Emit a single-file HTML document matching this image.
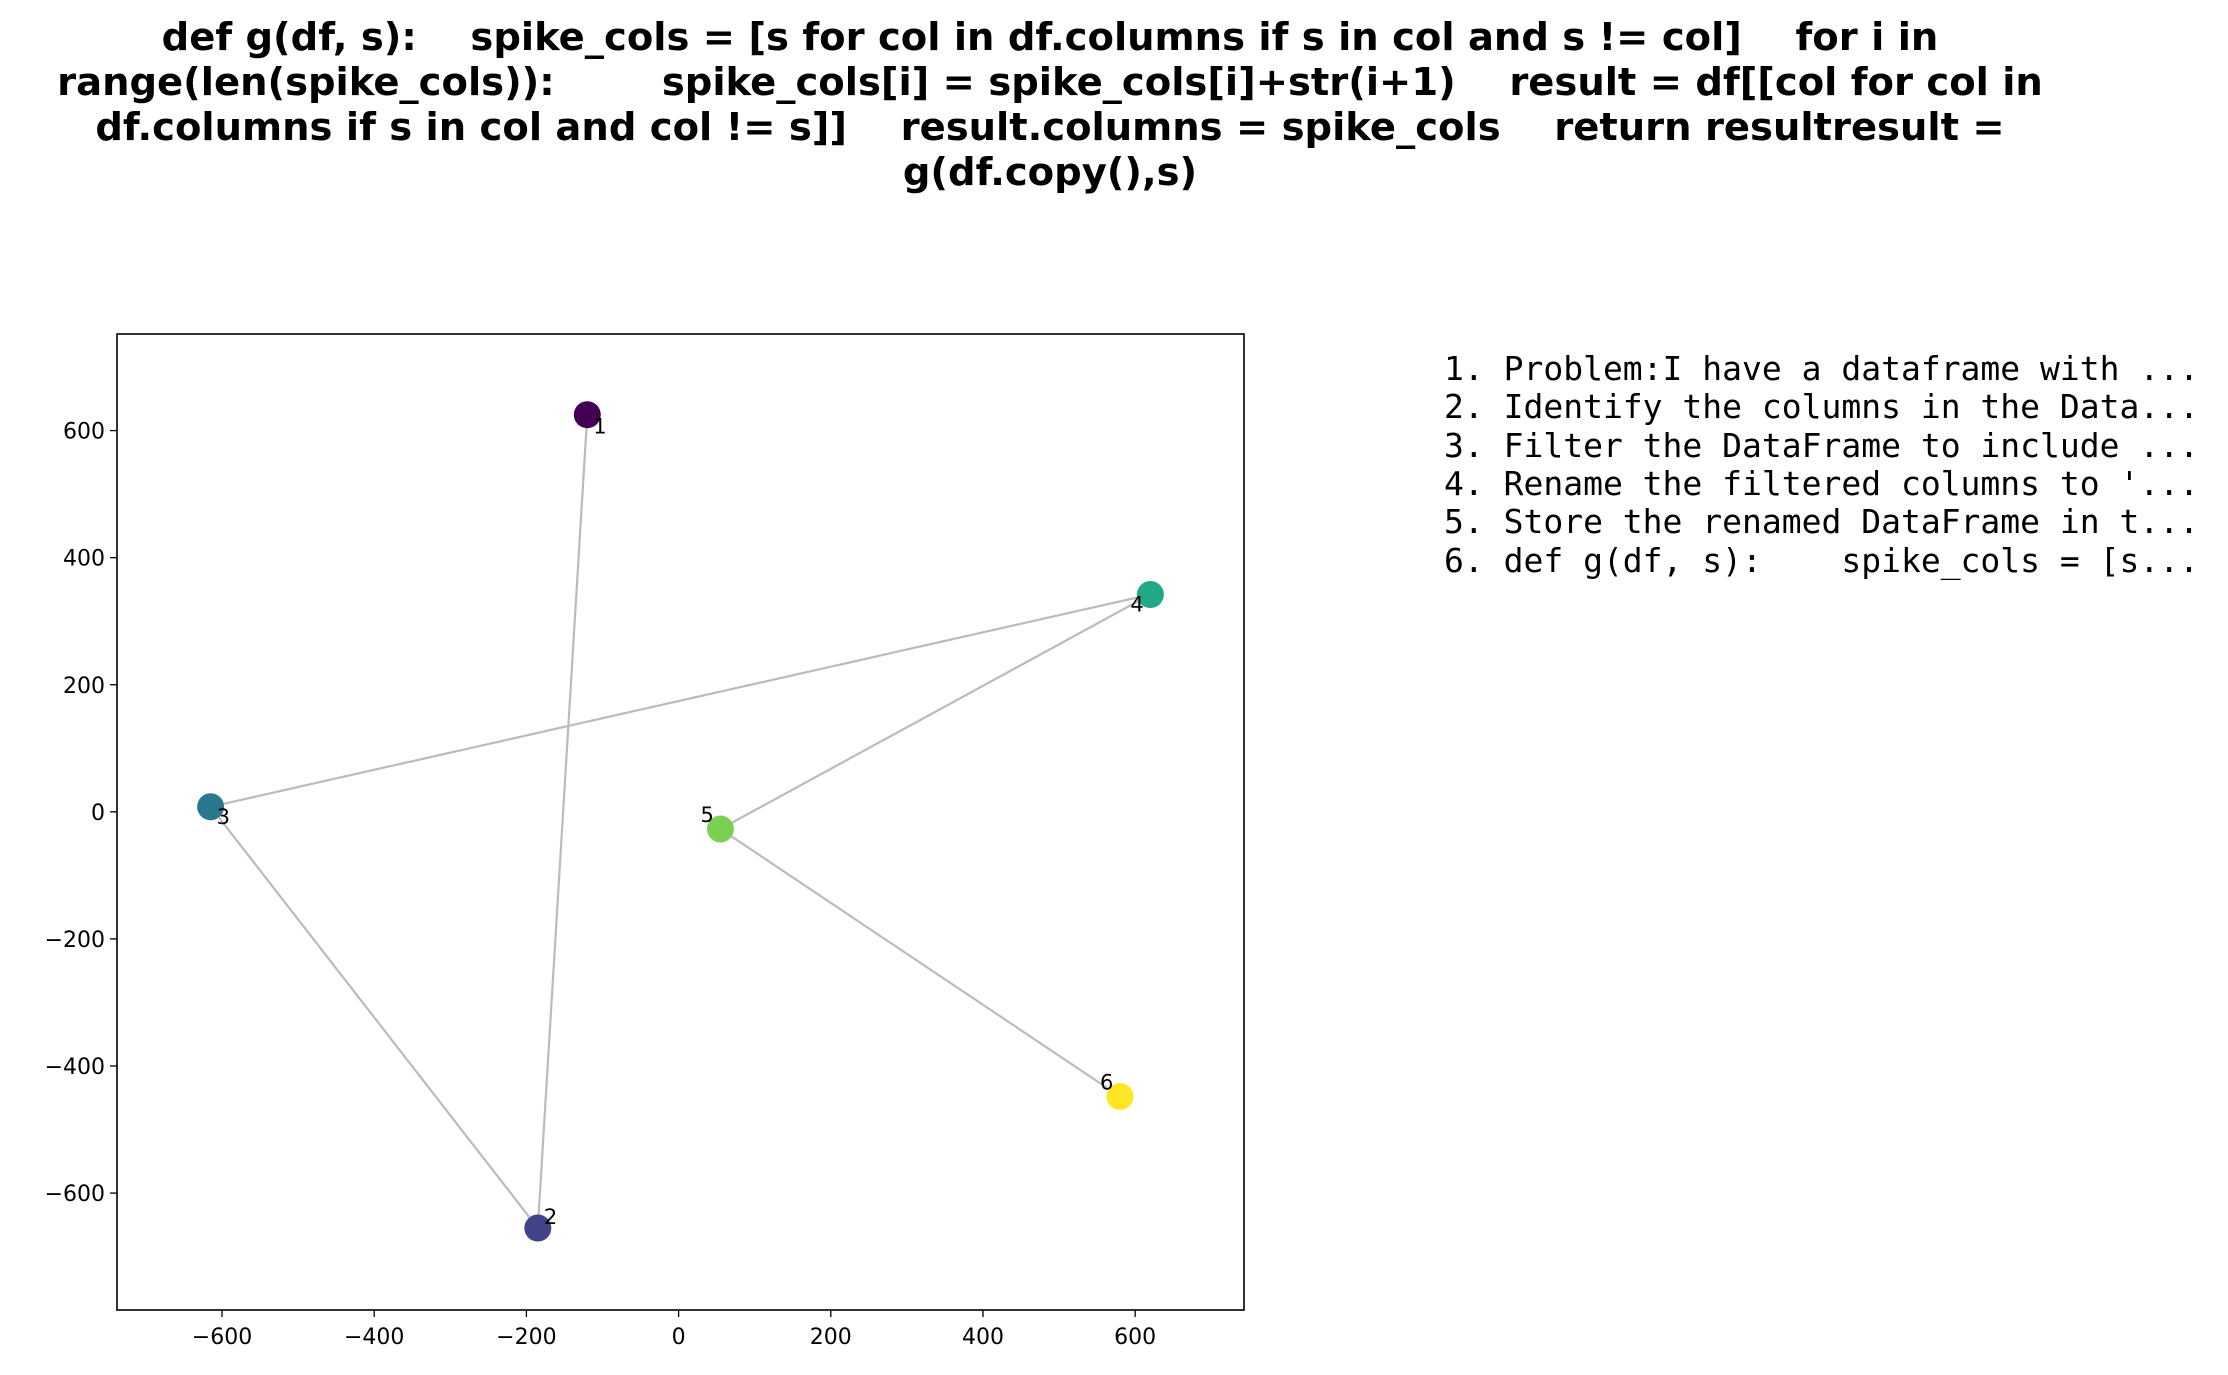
<!DOCTYPE html>
<html><head><meta charset="utf-8"><style>
body{margin:0;background:#fff}
svg{display:block}
.t{font-family:"DejaVu Sans","Liberation Sans",sans-serif}
</style></head><body>
<svg id="chart" width="2228" height="1375" xmlns="http://www.w3.org/2000/svg">
<g class="t" font-weight="bold" font-size="38.5" text-anchor="middle" fill="#000" xml:space="preserve">
<text x="1050" y="50" xml:space="preserve">def g(df, s):    spike_cols = [s for col in df.columns if s in col and s != col]    for i in</text>
<text x="1050" y="95" xml:space="preserve">range(len(spike_cols)):        spike_cols[i] = spike_cols[i]+str(i+1)    result = df[[col for col in</text>
<text x="1050" y="140" xml:space="preserve">df.columns if s in col and col != s]]    result.columns = spike_cols    return resultresult =</text>
<text x="1050" y="185" xml:space="preserve">g(df.copy(),s)</text>
</g>
<g id="plot"></g>
<g font-family="'DejaVu Sans Mono','Liberation Mono',monospace" font-size="33" fill="#000">
<text x="1444" y="380" xml:space="preserve">1. Problem:I have a dataframe with ...</text>
<text x="1444" y="418" xml:space="preserve">2. Identify the columns in the Data...</text>
<text x="1444" y="457" xml:space="preserve">3. Filter the DataFrame to include ...</text>
<text x="1444" y="495" xml:space="preserve">4. Rename the filtered columns to '...</text>
<text x="1444" y="533" xml:space="preserve">5. Store the renamed DataFrame in t...</text>
<text x="1444" y="572" xml:space="preserve">6. def g(df, s):    spike_cols = [s...</text>
</g>
</svg>
<script>
const labels=["1","2","3","4","5","6"];
const xs=[-120,-185,-615,620,55,580];
const ys=[625,-655,8,342,-27,-448];
const colors=["#440154","#414487","#2a788e","#22a884","#7ad151","#fde725"];
const edges=[[0,1],[1,2],[2,3],[3,4],[4,5]];
const xticks=[-600,-400,-200,0,200,400,600];
const yticks=[-600,-400,-200,0,200,400,600];
const L=117,R=1244,T=334,B=1310;
const xmin=-738,xmax=743,ymin=-784,ymax=752;
const X=v=>L+(v-xmin)/(xmax-xmin)*(R-L);
const Y=v=>B-(v-ymin)/(ymax-ymin)*(B-T);
const g=document.getElementById('plot');
const NS="http://www.w3.org/2000/svg";
function mk(t,a){const e=document.createElementNS(NS,t);for(const k in a)e.setAttribute(k,a[k]);g.appendChild(e);return e;}
const fmt=v=>v<0?"\u2212"+(-v):String(v);
edges.forEach(([a,b])=>{const l=mk('line',{x1:X(xs[a]),y1:Y(ys[a]),x2:X(xs[b]),y2:Y(ys[b]),stroke:'#bbbbbb','stroke-width':2.2});

});
const off=[[6,19],[6,-4],[6,17],[-20,17],[-20,-7],[-20,-7]];
xs.forEach((x,i)=>{const c=mk('circle',{cx:X(x),cy:Y(ys[i]),r:13.5,fill:colors[i]});


const t=mk('text',{x:X(x)+off[i][0],y:Y(ys[i])+off[i][1],'font-size':21,'font-family':'DejaVu Sans,Liberation Sans,sans-serif'});t.textContent=labels[i];

});
const f=mk('rect',{x:L,y:T,width:R-L,height:B-T,fill:'none',stroke:'#000','stroke-width':1.6});


xticks.forEach(v=>{mk('line',{x1:X(v),x2:X(v),y1:B,y2:B+7,stroke:'#000','stroke-width':1.3});
const t=mk('text',{x:X(v),y:B+34,'text-anchor':'middle','font-size':22,'font-family':'DejaVu Sans,Liberation Sans,sans-serif'});t.textContent=fmt(v);

});
yticks.forEach(v=>{mk('line',{x1:L-7,x2:L,y1:Y(v),y2:Y(v),stroke:'#000','stroke-width':1.3});
const t=mk('text',{x:L-12,y:Y(v)+8,'text-anchor':'end','font-size':22,'font-family':'DejaVu Sans,Liberation Sans,sans-serif'});t.textContent=fmt(v);

});
</script>
</body></html>
